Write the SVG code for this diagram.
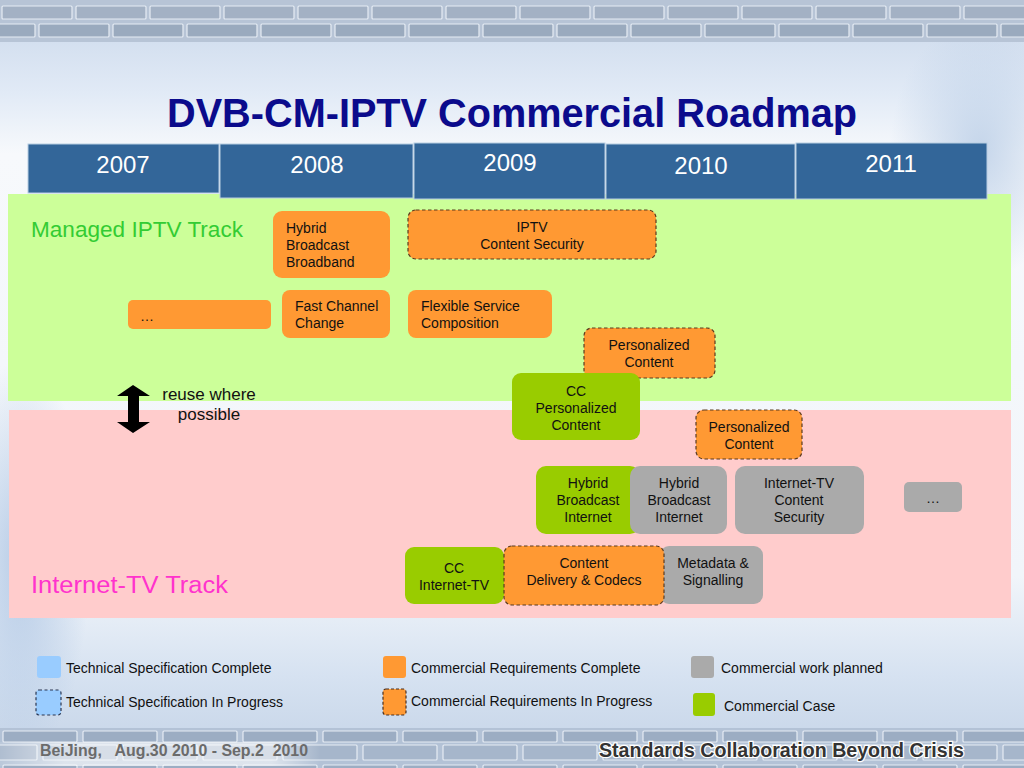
<svg xmlns="http://www.w3.org/2000/svg" width="1024" height="768" viewBox="0 0 1024 768">
<defs>
<linearGradient id="bg" x1="0" y1="0" x2="0" y2="1">
<stop offset="0" stop-color="#c9d7ea"/>
<stop offset="0.12" stop-color="#e1eaf6"/>
<stop offset="0.2" stop-color="#f7f9fc"/>
<stop offset="0.75" stop-color="#f1f5fa"/>
<stop offset="0.88" stop-color="#d6e2f1"/>
<stop offset="1" stop-color="#c3d2e6"/>
</linearGradient>
<radialGradient id="flourR" cx="0.5" cy="0.5" r="0.5">
<stop offset="0" stop-color="#b9cde6" stop-opacity="0.8"/>
<stop offset="1" stop-color="#b9cde6" stop-opacity="0"/>
</radialGradient>
<radialGradient id="flourL" cx="0.5" cy="0.5" r="0.5">
<stop offset="0" stop-color="#a9c2e2" stop-opacity="0.8"/>
<stop offset="1" stop-color="#a9c2e2" stop-opacity="0"/>
</radialGradient>
<pattern id="brickA" x="0" y="0" width="74" height="40" patternUnits="userSpaceOnUse">
<rect x="2" y="6" width="70" height="13" rx="1" fill="#a3b1c4" stroke="#e6ecf4" stroke-width="1.2"/>
<rect x="-35" y="24" width="70" height="13" rx="1" fill="#9aaabe" stroke="#e6ecf4" stroke-width="1.2"/>
<rect x="39" y="24" width="70" height="13" rx="1" fill="#9aaabe" stroke="#e6ecf4" stroke-width="1.2"/>
</pattern>
<pattern id="brickB" x="0" y="728" width="80" height="34" patternUnits="userSpaceOnUse">
<rect x="3" y="3" width="74" height="11" rx="1" fill="#9cadc3" stroke="#e6ecf4" stroke-width="1.2"/>
<rect x="-37" y="17" width="74" height="15" rx="1" fill="#a6b6cb" stroke="#e6ecf4" stroke-width="1.2"/>
<rect x="43" y="17" width="74" height="15" rx="1" fill="#a6b6cb" stroke="#e6ecf4" stroke-width="1.2"/>
</pattern>
<linearGradient id="beijingHi" x1="0" y1="0" x2="1" y2="0">
<stop offset="0" stop-color="#ffffff" stop-opacity="0.1"/>
<stop offset="0.2" stop-color="#ffffff" stop-opacity="0.55"/>
<stop offset="0.85" stop-color="#ffffff" stop-opacity="0.55"/>
<stop offset="1" stop-color="#ffffff" stop-opacity="0"/>
</linearGradient>
</defs>
<style>
.yr{fill:#336699;stroke:#b8cde2;stroke-width:1}
.yt{font-family:"Liberation Sans",Arial,sans-serif;font-size:24px;fill:#ffffff;text-anchor:middle}
.n{font-family:"Liberation Sans",Arial,sans-serif;font-size:14px;fill:#111111}
.c{text-anchor:middle}
.or{fill:#ff9933}
.gr{fill:#99cc00}
.gy{fill:#aaaaaa}
.dash{stroke:#5a3a1f;stroke-width:1.2;stroke-dasharray:3.5 2.5}
.lg{font-family:"Liberation Sans",Arial,sans-serif;font-size:14px;fill:#111111}
</style>

<!-- background -->
<rect x="0" y="0" width="1024" height="768" fill="url(#bg)"/>
<ellipse cx="980" cy="150" rx="90" ry="130" fill="url(#flourR)"/>
<ellipse cx="20" cy="560" rx="70" ry="200" fill="url(#flourL)"/>
<rect x="0" y="0" width="1024" height="42" fill="#b7c4d6"/>
<rect x="0" y="0" width="1024" height="42" fill="url(#brickA)"/>
<rect x="0" y="728" width="1024" height="40" fill="#b3c2d6"/>
<rect x="0" y="728" width="1024" height="40" fill="url(#brickB)"/>
<rect x="0" y="742" width="320" height="24" fill="url(#beijingHi)"/>

<!-- title -->
<text x="512" y="127" font-family="'Liberation Sans',Arial,sans-serif" font-size="40" font-weight="bold" fill="#0b0b8c" text-anchor="middle" textLength="690" lengthAdjust="spacingAndGlyphs">DVB-CM-IPTV Commercial Roadmap</text>

<!-- tracks -->
<g id="track-managed">
<rect x="8" y="194" width="1003" height="207" fill="#ccff99"/>
<text x="31" y="237" font-family="'Liberation Sans',Arial,sans-serif" font-size="22.5" fill="#33cc33" textLength="212" lengthAdjust="spacingAndGlyphs">Managed IPTV Track</text>
</g>
<g id="track-internet">
<rect x="9" y="410" width="1002" height="208" fill="#ffcccc"/>
<text x="31" y="593" font-family="'Liberation Sans',Arial,sans-serif" font-size="23" fill="#ff33cc" textLength="197" lengthAdjust="spacingAndGlyphs">Internet-TV Track</text>
</g>

<!-- years -->
<g id="years">
<g id="y2007"><rect class="yr" x="28" y="144" width="191" height="49"/><text class="yt" x="123" y="173">2007</text></g>
<g id="y2008"><rect class="yr" x="220" y="144" width="193" height="54"/><text class="yt" x="317" y="173">2008</text></g>
<g id="y2009"><rect class="yr" x="414" y="143" width="191" height="56"/><text class="yt" x="510" y="171">2009</text></g>
<g id="y2010"><rect class="yr" x="606" y="144" width="189" height="55"/><text class="yt" x="701" y="174">2010</text></g>
<g id="y2011"><rect class="yr" x="796" y="143" width="191" height="56"/><text class="yt" x="891" y="172">2011</text></g>
</g>

<!-- managed nodes -->
<g id="n-hbb">
<rect class="or" x="273" y="211" width="117" height="67" rx="9"/>
<text class="n" x="286" y="233">Hybrid</text>
<text class="n" x="286" y="250">Broadcast</text>
<text class="n" x="286" y="267">Broadband</text>
</g>
<g id="n-dots1">
<rect class="or" x="128" y="300" width="143" height="29" rx="5"/>
<text class="n" x="140" y="321">…</text>
</g>
<g id="n-fcc">
<rect class="or" x="282" y="290" width="108" height="48" rx="8"/>
<text class="n" x="295" y="311">Fast Channel</text>
<text class="n" x="295" y="328">Change</text>
</g>
<g id="n-iptvsec">
<rect class="or dash" x="408" y="210" width="248" height="49" rx="8"/>
<text class="n c" x="532" y="232">IPTV</text>
<text class="n c" x="532" y="249">Content Security</text>
</g>
<g id="n-fsc">
<rect class="or" x="408" y="290" width="144" height="48" rx="8"/>
<text class="n" x="421" y="311">Flexible Service</text>
<text class="n" x="421" y="328">Composition</text>
</g>
<g id="n-pc1">
<rect class="or dash" x="584" y="328" width="131" height="50" rx="8"/>
<text class="n c" x="649" y="350">Personalized</text>
<text class="n c" x="649" y="367">Content</text>
</g>
<g id="n-ccpc">
<rect class="gr" x="512" y="373" width="128" height="67" rx="9"/>
<text class="n c" x="576" y="396">CC</text>
<text class="n c" x="576" y="413">Personalized</text>
<text class="n c" x="576" y="430">Content</text>
</g>

<!-- internet nodes -->
<g id="n-pc2">
<rect class="or dash" x="696" y="410" width="106" height="49" rx="8"/>
<text class="n c" x="749" y="432">Personalized</text>
<text class="n c" x="749" y="449">Content</text>
</g>
<g id="n-hbi-green">
<rect class="gr" x="536" y="466" width="104" height="68" rx="10"/>
<text class="n c" x="588" y="488">Hybrid</text>
<text class="n c" x="588" y="505">Broadcast</text>
<text class="n c" x="588" y="522">Internet</text>
</g>
<g id="n-hbi-gray">
<rect class="gy" x="630" y="466" width="97" height="68" rx="10"/>
<text class="n c" x="679" y="488">Hybrid</text>
<text class="n c" x="679" y="505">Broadcast</text>
<text class="n c" x="679" y="522">Internet</text>
</g>
<g id="n-itvsec">
<rect class="gy" x="735" y="466" width="129" height="68" rx="10"/>
<text class="n c" x="799" y="488">Internet-TV</text>
<text class="n c" x="799" y="505">Content</text>
<text class="n c" x="799" y="522">Security</text>
</g>
<g id="n-dots2">
<rect class="gy" x="904" y="482" width="58" height="30" rx="5"/>
<text class="n c" x="933" y="503">…</text>
</g>
<g id="n-ccitv">
<rect class="gr" x="405" y="547" width="99" height="57" rx="9"/>
<text class="n c" x="454" y="573">CC</text>
<text class="n c" x="454" y="590">Internet-TV</text>
</g>
<g id="n-meta">
<rect class="gy" x="660" y="546" width="103" height="58" rx="9"/>
<text class="n c" x="713" y="568">Metadata &amp;</text>
<text class="n c" x="713" y="585">Signalling</text>
</g>
<g id="n-cdc">
<rect class="or dash" x="504" y="546" width="160" height="59" rx="8"/>
<text class="n c" x="584" y="568">Content</text>
<text class="n c" x="584" y="585">Delivery &amp; Codecs</text>
</g>

<!-- connectors -->
<g id="connectors">
<polygon points="133,385 150,396 139,396 139,422 150,422 133,433 117,422 128,422 128,396 117,396" fill="#000000"/>
<text x="209" y="400" font-family="'Liberation Sans',Arial,sans-serif" font-size="17" fill="#111111" text-anchor="middle">reuse where</text>
<text x="209" y="420" font-family="'Liberation Sans',Arial,sans-serif" font-size="17" fill="#111111" text-anchor="middle">possible</text>
</g>

<!-- legend -->
<g id="legend">
<g id="lg-tsc"><rect x="37" y="656" width="24" height="22" rx="3" fill="#99ccff"/><text class="lg" x="66" y="673">Technical Specification Complete</text></g>
<g id="lg-tsp"><rect x="36" y="690" width="25" height="25" rx="3" fill="#99ccff" stroke="#2a3550" stroke-width="1.2" stroke-dasharray="3 2.5"/><text class="lg" x="66" y="707">Technical Specification In Progress</text></g>
<g id="lg-crc"><rect x="383" y="656" width="23" height="22" rx="3" fill="#ff9933"/><text class="lg" x="411" y="673">Commercial Requirements Complete</text></g>
<g id="lg-crp"><rect x="383" y="689" width="23" height="26" rx="3" fill="#ff9933" stroke="#4a3020" stroke-width="1.2" stroke-dasharray="3 2"/><text class="lg" x="411" y="706">Commercial Requirements In Progress</text></g>
<g id="lg-cwp"><rect x="691" y="656" width="23" height="22" rx="3" fill="#aaaaaa"/><text class="lg" x="721" y="673">Commercial work planned</text></g>
<g id="lg-cc"><rect x="693" y="693" width="22" height="23" rx="3" fill="#99cc00"/><text class="lg" x="724" y="711">Commercial Case</text></g>
</g>

<!-- footer -->
<text x="40" y="756" font-family="'Liberation Sans',Arial,sans-serif" font-size="16" font-weight="bold" fill="#6b6b6b" textLength="268" lengthAdjust="spacingAndGlyphs" xml:space="preserve">BeiJing,   Aug.30 2010 - Sep.2  2010</text>
<text x="599" y="757" font-family="'Liberation Sans',Arial,sans-serif" font-size="19.5" font-weight="bold" fill="#333333" stroke="#ffffff" stroke-width="2.5" paint-order="stroke" textLength="365" lengthAdjust="spacingAndGlyphs">Standards Collaboration Beyond Crisis</text>
</svg>
